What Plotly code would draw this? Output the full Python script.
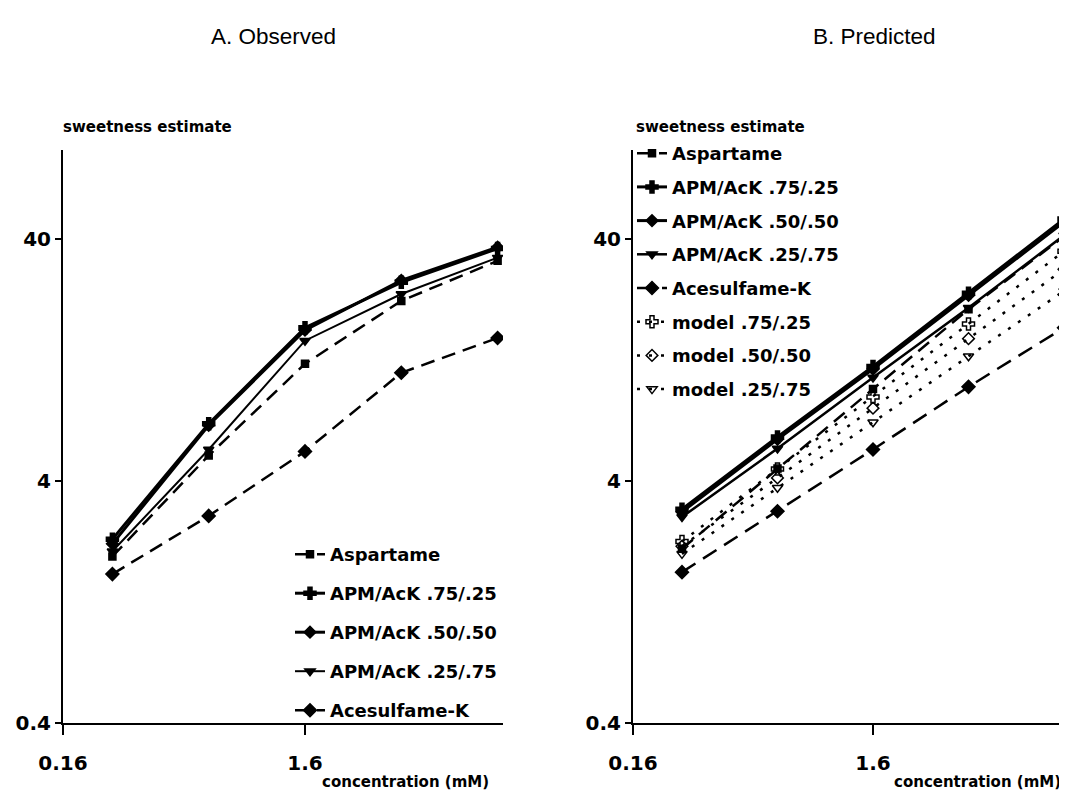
import math
import plotly.graph_objects as go

# ---------------- data ----------------
conc = [0.256, 0.64, 1.6, 4.0, 10.0]

# A. Observed
obs_aspartame = [1.95, 5.1, 12.2, 22.2, 32.5]
obs_75_25 = [2.3, 6.9, 17.2, 26.5, 36.5]
obs_50_50 = [2.2, 6.8, 16.8, 27.0, 37.0]
obs_25_75 = [2.05, 5.4, 15.2, 23.7, 33.5]
obs_acek = [1.65, 2.87, 5.3, 11.2, 15.6]

# B. Predicted
pred_aspartame = [2.1, 4.5, 9.6, 20.5, 41.0]
pred_75_25 = [3.06, 6.08, 11.9, 23.9, 48.4]
pred_50_50 = [2.98, 5.95, 11.6, 23.4, 47.0]
pred_25_75 = [2.84, 5.45, 10.7, 20.8, 41.4]
pred_acek = [1.68, 3.0, 5.4, 9.8, 17.2]
model_75_25 = [2.25, 4.48, 8.9, 17.8, 35.6]
model_50_50 = [2.15, 4.12, 8.0, 15.5, 30.0]
model_25_75 = [2.0, 3.75, 7.0, 13.1, 24.4]

names_obs = ["Aspartame", "APM/AcK .75/.25", "APM/AcK .50/.50",
             "APM/AcK .25/.75", "Acesulfame-K"]
names_model = ["model .75/.25", "model .50/.50", "model .25/.75"]

y_ticks = [0.4, 4, 40]
y_ticktext = ["0.4", "4", "40"]
x_ticks = [0.16, 1.6]
x_ticktext = ["0.16", "1.6"]

# ---------------- geometry ----------------
W, H = 1067, 811
OFF = 8  # page body margin

def px(xp):
    return (xp - OFF) / W

def py(yp):
    return (H - (yp - OFF)) / H

BLACK = "black"
DASH = "14px,8px"
DOT = "3px,9px"

styles_obs = [
    dict(symbol="square", size=7, width=2.5, dash=DASH),
    dict(symbol="cross", size=10, width=3, dash="solid"),
    dict(symbol="diamond", size=9, width=3, dash="solid"),
    dict(symbol="triangle-down", size=9, width=2, dash="solid"),
    dict(symbol="diamond", size=10, width=2.5, dash=DASH),
]
styles_pred = [
    dict(symbol="square", size=7, width=2.5, dash=DASH),
    dict(symbol="cross", size=10, width=3, dash="solid"),
    dict(symbol="diamond", size=9, width=3, dash="solid"),
    dict(symbol="triangle-down", size=9, width=2.5, dash="solid"),
    dict(symbol="diamond", size=10, width=2.5, dash="16px,9px"),
    dict(symbol="cross-open", size=10, width=2.5, dash=DOT),
    dict(symbol="diamond-open", size=9, width=2.5, dash=DOT),
    dict(symbol="triangle-down-open", size=9, width=2.5, dash=DOT),
]

fig = go.Figure()

obs_series = [obs_aspartame, obs_75_25, obs_50_50, obs_25_75, obs_acek]
for i, (nm, ys, st) in enumerate(zip(names_obs, obs_series, styles_obs)):
    fig.add_trace(go.Scatter(
        x=conc, y=ys, name=nm, mode="lines+markers",
        xaxis="x", yaxis="y", legend="legend", legendgroup="a%d" % i,
        line=dict(color=BLACK, width=st["width"], dash=st["dash"]),
        marker=dict(symbol=st["symbol"], size=st["size"], color=BLACK,
                    line=dict(color=BLACK, width=1.5)),
    ))

pred_series = [pred_aspartame, pred_75_25, pred_50_50, pred_25_75, pred_acek,
               model_75_25, model_50_50, model_25_75]
for i, (nm, ys, st) in enumerate(zip(names_obs + names_model, pred_series, styles_pred)):
    fig.add_trace(go.Scatter(
        x=conc, y=ys, name=nm, mode="lines+markers",
        xaxis="x2", yaxis="y2", legend="legend2", legendgroup="b%d" % i,
        line=dict(color=BLACK, width=st["width"], dash=st["dash"]),
        marker=dict(symbol=st["symbol"], size=st["size"], color=BLACK,
                    line=dict(color=BLACK, width=1.5)),
    ))

tickfont = dict(family="DejaVu Sans", size=20, color=BLACK, weight="bold")
lx0 = math.log10(0.16)
ybot = math.log10(0.4)
ytop = ybot + (723 - 150) / 242.0

def xaxis(domain, span_px, ppd):
    return dict(type="log", domain=domain, range=[lx0, lx0 + span_px / ppd],
                tickmode="array", tickvals=x_ticks, ticktext=x_ticktext,
                ticks="outside", ticklen=10, tickwidth=2, tickcolor=BLACK,
                showline=True, linewidth=2, linecolor=BLACK,
                showgrid=False, zeroline=False, tickfont=tickfont,
                ticklabelstandoff=11, automargin=False)

def yaxis(anchor):
    return dict(type="log", domain=[py(723), py(150)], range=[ybot, ytop],
                anchor=anchor,
                tickmode="array", tickvals=y_ticks, ticktext=y_ticktext,
                ticks="outside", ticklen=6, tickwidth=2, tickcolor=BLACK,
                showline=True, linewidth=2, linecolor=BLACK,
                showgrid=False, zeroline=False, tickfont=tickfont,
                automargin=False)

legfont = dict(family="DejaVu Sans", size=18, color=BLACK, weight="bold")
labfont = dict(family="DejaVu Sans", size=15, color=BLACK, weight="bold")
titlefont = dict(family="Liberation Sans", size=22.5, color=BLACK)

fig.update_layout(
    width=W, height=H, autosize=False,
    margin=dict(l=0, r=0, t=0, b=0),
    paper_bgcolor="white", plot_bgcolor="white",
    showlegend=True,
    xaxis=dict(**xaxis([px(63), px(503)], 440, 242.0), anchor="y"),
    yaxis=yaxis("x"),
    xaxis2=dict(**xaxis([px(633), 1.0], 442, 240.0), anchor="y2"),
    yaxis2=yaxis("x2"),
    legend=dict(x=px(290), y=py(536), xanchor="left", yanchor="top",
                font=legfont, bgcolor="rgba(0,0,0,0)", borderwidth=0,
                traceorder="grouped", tracegroupgap=12.6, itemwidth=30),
    legend2=dict(x=px(632), y=py(135), xanchor="left", yanchor="top",
                 font=legfont, bgcolor="rgba(0,0,0,0)", borderwidth=0,
                 traceorder="grouped", tracegroupgap=7.3, itemwidth=30),
    annotations=[
        dict(text="A. Observed", x=px(273), y=py(36), xref="paper", yref="paper",
             xanchor="center", yanchor="middle", showarrow=False, font=titlefont),
        dict(text="B. Predicted", x=px(874), y=py(36), xref="paper", yref="paper",
             xanchor="center", yanchor="middle", showarrow=False, font=titlefont),
        dict(text="sweetness estimate", x=px(61), y=py(127), xref="paper", yref="paper",
             xanchor="left", yanchor="middle", showarrow=False, font=labfont),
        dict(text="sweetness estimate", x=px(634), y=py(127), xref="paper", yref="paper",
             xanchor="left", yanchor="middle", showarrow=False, font=labfont),
        dict(text="concentration (mM)", x=px(491), y=py(782), xref="paper", yref="paper",
             xanchor="right", yanchor="middle", showarrow=False, font=labfont),
        dict(text="concentration (mM)", x=px(1063), y=py(782), xref="paper", yref="paper",
             xanchor="right", yanchor="middle", showarrow=False, font=labfont),
    ],
)

fig.write_html("out.html")
